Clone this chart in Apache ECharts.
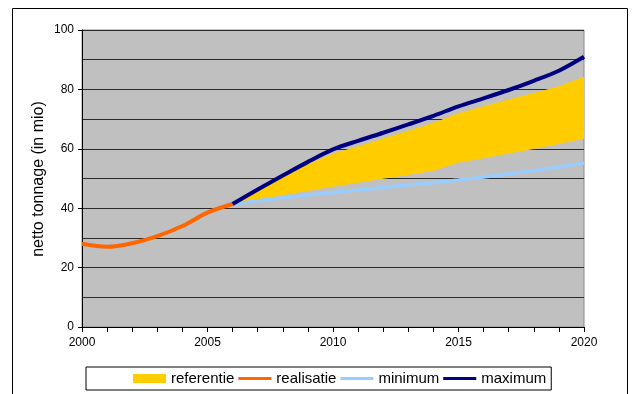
<!DOCTYPE html>
<html>
<head>
<meta charset="utf-8">
<script src="https://cdn.jsdelivr.net/npm/echarts@6/dist/echarts.min.js"></script>
<style>
  html, body { margin: 0; padding: 0; background: #fff; }
  #chart { width: 634px; height: 394px; }
</style>
</head>
<body>
<div id="chart"></div>
<script>
// Years on the horizontal axis
const years = ['2000', '2001', '2002', '2003', '2004', '2005', '2006', '2007', '2008', '2009', '2010',
               '2011', '2012', '2013', '2014', '2015', '2016', '2017', '2018', '2019', '2020'];

// Realised net tonnage 2000-2006 (million)
const realisatie = [28.0, 27.0, 28.2, 30.6, 34.0, 38.5, 41.4];

// Forecast scenarios 2006-2020 (million)
const maximum  = [41.4, 46.3, 51.0, 55.6, 59.8, 62.7, 65.4, 68.2, 71.1, 74.3, 77.0, 79.8, 82.9, 86.3, 91.0];
const minimum  = [41.4, 42.5, 43.5, 44.4, 45.3, 46.1, 47.0, 47.8, 48.6, 49.5, 50.5, 51.6, 52.7, 53.9, 55.1];
const referentieHigh = [41.4, 45.8, 50.3, 54.8, 58.4, 60.9, 63.5, 66.1, 68.8, 72.0, 74.3, 76.6, 78.8, 81.1, 84.3];
const referentieLow  = [41.4, 42.9, 44.4, 45.8, 47.2, 48.6, 49.9, 51.2, 52.6, 55.3, 56.8, 58.4, 59.9, 61.6, 63.4];

const yTickLabels = [0, 20, 40, 60, 80, 100];
const xTickLabels = ['2000', '2005', '2010', '2015', '2020'];
const yTitle = 'netto tonnage (in mio)';

// place a series on the full year range (realised part starts in 2000, forecasts in 2006)
const onYears = (startYear, values) =>
  years.map(y => {
    const i = Number(y) - startYear;
    return i >= 0 && i < values.length ? values[i] : null;
  });
const band = referentieHigh.map((v, i) => +(v - referentieLow[i]).toFixed(2));

const chart = echarts.init(document.getElementById('chart'), null, { renderer: 'canvas' });

const font = '"Liberation Sans", Arial, sans-serif';
const lineIcon = 'path://M0,0H36V3.5H0Z';

chart.setOption({
  backgroundColor: '#ffffff',
  animation: false,
  graphic: [
    {
      type: 'rect',
      shape: { x: 12.5, y: 8.5, width: 615, height: 400 },
      style: { fill: 'none', stroke: '#000', lineWidth: 1 },
      z: -1
    },
    {
      // vertical axis title
      type: 'text',
      x: 39, y: 179,
      rotation: Math.PI / 2,
      style: {
        text: yTitle,
        fontFamily: font, fontSize: 16, fill: '#000',
        align: 'center', verticalAlign: 'middle'
      }
    }
  ],
  grid: {
    left: 82, top: 30, right: 50, bottom: 67,
    show: true,
    backgroundColor: '#C0C0C0',
    borderColor: '#8a8a8a',
    borderWidth: 1
  },
  legend: {
    left: 86, top: 367,
    padding: [4, 5, 4, 47],
    backgroundColor: '#fff',
    borderColor: '#000',
    borderWidth: 1,
    itemGap: 4,
    itemWidth: 33,
    itemHeight: 9,
    symbolKeepAspect: true,
    textStyle: { fontFamily: font, fontSize: 15, color: '#000' },
    data: [
      { name: 'referentie', icon: 'rect', itemStyle: { color: '#FFCC00' } },
      { name: 'realisatie', icon: lineIcon, itemStyle: { color: '#FF6600' } },
      { name: 'minimum', icon: lineIcon, itemStyle: { color: '#99CCFF' } },
      { name: 'maximum', icon: lineIcon, itemStyle: { color: '#000080' } }
    ]
  },
  xAxis: {
    type: 'category',
    data: years,
    boundaryGap: false,
    axisLine: { show: true, lineStyle: { color: '#000', width: 1 } },
    axisTick: { show: true, length: 5, interval: 0, lineStyle: { color: '#000' } },
    splitLine: { show: false },
    axisLabel: {
      interval: 0,
      margin: 10,
      fontFamily: font, fontSize: 12, color: '#000',
      formatter: v => (xTickLabels.indexOf(v) >= 0 ? v : '')
    }
  },
  yAxis: {
    type: 'value',
    min: 0, max: 100, interval: 20,
    axisLine: { show: true, lineStyle: { color: '#000', width: 1 } },
    axisTick: { show: true, length: 4, lineStyle: { color: '#000' } },
    axisLabel: {
      margin: 8,
      fontFamily: font, fontSize: 12, color: '#000',
      formatter: v => (yTickLabels.indexOf(v) >= 0 ? String(v) : '')
    },
    splitLine: { show: true, lineStyle: { color: '#2a2a2a', width: 1 } },
    minorTick: { show: false, splitNumber: 2 },
    minorSplitLine: { show: true, lineStyle: { color: '#2a2a2a', width: 1 } }
  },
  series: [
    {
      name: 'band-low',
      type: 'line',
      stack: 'ref',
      data: onYears(2006, referentieLow),
      symbol: 'none',
      lineStyle: { opacity: 0 },
      silent: true,
      z: 2
    },
    {
      name: 'referentie',
      type: 'line',
      stack: 'ref',
      data: onYears(2006, band),
      symbol: 'none',
      lineStyle: { opacity: 0 },
      itemStyle: { color: '#FFCC00' },
      areaStyle: { color: '#FFCC00', opacity: 1 },
      z: 2
    },
    {
      name: 'minimum',
      type: 'line',
      data: onYears(2006, minimum),
      symbol: 'none',
      smooth: 0.3,
      itemStyle: { color: '#99CCFF' },
      lineStyle: { color: '#99CCFF', width: 3.5 },
      z: 3
    },
    {
      name: 'realisatie',
      type: 'line',
      data: onYears(2000, realisatie),
      symbol: 'none',
      smooth: 0.35,
      itemStyle: { color: '#FF6600' },
      lineStyle: { color: '#FF6600', width: 4 },
      z: 4
    },
    {
      name: 'maximum',
      type: 'line',
      data: onYears(2006, maximum),
      symbol: 'none',
      smooth: 0.3,
      itemStyle: { color: '#000080' },
      lineStyle: { color: '#000080', width: 4 },
      z: 5
    }
  ]
});
</script>
</body>
</html>
